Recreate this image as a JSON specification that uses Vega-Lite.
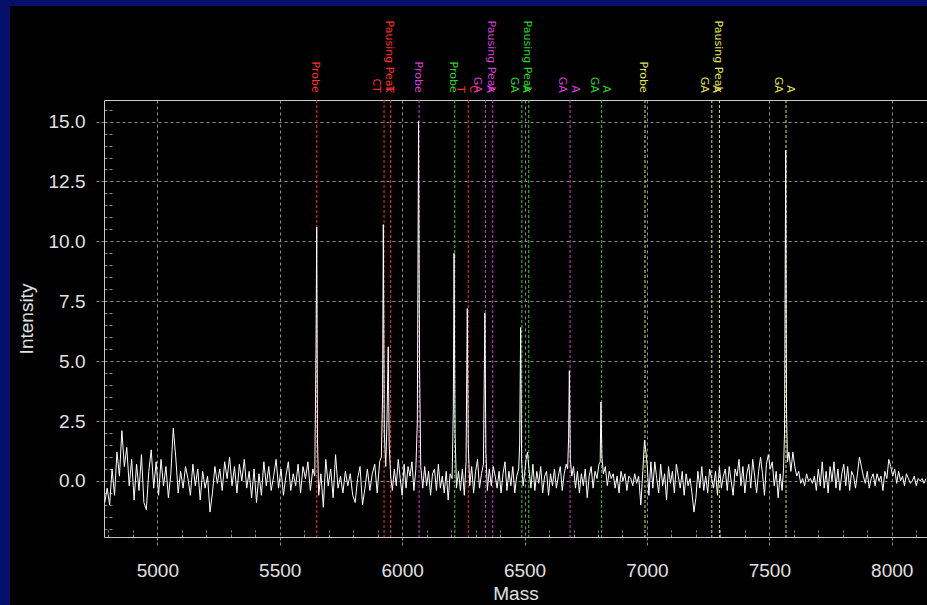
{
  "$schema": "https://vega.github.io/schema/vega-lite/v6.json",
  "width": 823,
  "height": 437,
  "autosize": {"type": "none"},
  "padding": {"left": 104, "top": 100, "right": 0, "bottom": 68},
  "background": "#04106a",
  "config": {
    "view": {"fill": "#000000", "stroke": "#000000", "strokeWidth": 188},
    "font": "Liberation Sans"
  },
  "datasets": {
    "spectrum": [
      {"m":4785,"i":-0.9},{"m":4795,"i":-0.3},{"m":4805,"i":-1.0},{"m":4815,"i":0.5},{"m":4825,"i":-0.6},{"m":4835,"i":1.2},{"m":4845,"i":0.2},{"m":4855,"i":2.1},{"m":4865,"i":0.6},{"m":4875,"i":1.4},{"m":4885,"i":-0.2},{"m":4895,"i":0.9},{"m":4905,"i":-0.8},{"m":4915,"i":0.7},{"m":4925,"i":-0.4},{"m":4935,"i":1.1},{"m":4945,"i":-0.9},{"m":4955,"i":-1.2},{"m":4965,"i":0.4},{"m":4975,"i":1.3},{"m":4985,"i":-0.3},{"m":4995,"i":0.8},{"m":5005,"i":-0.6},{"m":5015,"i":0.9},{"m":5025,"i":-0.2},{"m":5035,"i":0.6},{"m":5045,"i":-0.7},{"m":5055,"i":0.3},{"m":5065,"i":2.2},{"m":5075,"i":1.0},{"m":5085,"i":-0.5},{"m":5095,"i":0.4},
      {"m":5105,"i":-0.3},{"m":5115,"i":0.6},{"m":5125,"i":0.1},{"m":5135,"i":-0.6},{"m":5145,"i":0.7},{"m":5155,"i":-0.2},{"m":5165,"i":0.5},{"m":5175,"i":-0.8},{"m":5185,"i":0.4},{"m":5195,"i":-0.3},{"m":5205,"i":0.2},{"m":5215,"i":-1.3},{"m":5225,"i":-0.5},{"m":5235,"i":0.6},{"m":5245,"i":-0.1},{"m":5255,"i":0.5},{"m":5265,"i":-0.4},{"m":5275,"i":0.8},{"m":5285,"i":0.1},{"m":5295,"i":1.0},{"m":5305,"i":-0.2},{"m":5315,"i":0.6},{"m":5325,"i":-0.5},{"m":5335,"i":0.7},{"m":5345,"i":0.0},{"m":5355,"i":0.9},{"m":5365,"i":-0.3},{"m":5375,"i":0.4},{"m":5385,"i":-0.7},{"m":5395,"i":0.5},{"m":5405,"i":-0.9},{"m":5415,"i":0.3},{"m":5425,"i":-0.6},{"m":5435,"i":0.8},{"m":5445,"i":-0.2},{"m":5455,"i":0.6},{"m":5465,"i":-0.4},{"m":5475,"i":0.2},{"m":5485,"i":0.9},{"m":5495,"i":-0.3},{"m":5505,"i":0.5},{"m":5515,"i":-0.6},{"m":5525,"i":0.2},{"m":5535,"i":0.8},{"m":5545,"i":-0.4},{"m":5555,"i":0.3},{"m":5565,"i":-0.2},{"m":5575,"i":0.7},{"m":5585,"i":-0.5},{"m":5595,"i":0.6},{"m":5605,"i":0.1},{"m":5615,"i":0.8},{"m":5625,"i":-0.4},{"m":5635,"i":0.5},{"m":5643,"i":0.2},{"m":5648,"i":5.5},{"m":5651,"i":10.6},{"m":5654,"i":1.8},{"m":5659,"i":-0.6},
      {"m":5668,"i":0.3},{"m":5678,"i":-1.1},{"m":5688,"i":0.9},{"m":5698,"i":-0.2},{"m":5708,"i":0.5},{"m":5718,"i":-0.7},{"m":5728,"i":1.1},{"m":5738,"i":-0.3},{"m":5748,"i":0.2},{"m":5758,"i":-0.5},{"m":5768,"i":0.4},{"m":5778,"i":-0.2},{"m":5788,"i":0.3},{"m":5798,"i":-0.6},{"m":5808,"i":-0.9},{"m":5818,"i":0.1},{"m":5828,"i":0.6},{"m":5838,"i":-1.0},{"m":5848,"i":-0.3},{"m":5858,"i":0.5},{"m":5868,"i":-0.4},{"m":5878,"i":0.3},{"m":5888,"i":0.7},{"m":5898,"i":-0.5},{"m":5908,"i":0.8},{"m":5915,"i":1.0},{"m":5920,"i":3.5},{"m":5923,"i":10.7},{"m":5927,"i":2.0},{"m":5933,"i":0.6},{"m":5938,"i":2.5},{"m":5943,"i":5.6},{"m":5947,"i":1.5},{"m":5953,"i":0.2},
      {"m":5960,"i":-0.4},{"m":5968,"i":0.5},{"m":5976,"i":-0.2},{"m":5984,"i":0.9},{"m":5992,"i":0.1},{"m":6000,"i":-0.6},{"m":6008,"i":0.7},{"m":6016,"i":-0.3},{"m":6024,"i":0.6},{"m":6032,"i":0.2},{"m":6040,"i":0.8},{"m":6048,"i":-0.4},{"m":6056,"i":0.5},{"m":6062,"i":2.5},{"m":6067,"i":15.0},{"m":6071,"i":4.8},{"m":6076,"i":0.6},{"m":6084,"i":-0.3},
      {"m":6092,"i":0.6},{"m":6100,"i":-0.2},{"m":6108,"i":0.4},{"m":6116,"i":-0.6},{"m":6124,"i":0.3},{"m":6132,"i":0.5},{"m":6140,"i":-0.4},{"m":6148,"i":0.7},{"m":6156,"i":-0.3},{"m":6164,"i":0.2},{"m":6172,"i":-0.5},{"m":6180,"i":0.4},{"m":6188,"i":-0.8},{"m":6196,"i":0.3},{"m":6204,"i":0.1},{"m":6209,"i":3.0},{"m":6212,"i":9.5},{"m":6216,"i":2.0},{"m":6222,"i":-0.3},{"m":6230,"i":0.4},{"m":6238,"i":-0.4},{"m":6246,"i":0.5},{"m":6254,"i":-0.6},{"m":6261,"i":0.8},{"m":6266,"i":7.2},{"m":6270,"i":1.5},{"m":6276,"i":-0.2},{"m":6284,"i":0.6},{"m":6292,"i":-0.5},{"m":6300,"i":0.4},{"m":6308,"i":0.9},{"m":6316,"i":-0.3},{"m":6324,"i":0.3},{"m":6332,"i":0.7},{"m":6338,"i":7.0},{"m":6342,"i":1.2},{"m":6348,"i":-0.4},{"m":6356,"i":0.5},{"m":6364,"i":-0.2},{"m":6372,"i":0.6},{"m":6380,"i":0.2},{"m":6388,"i":-0.3},{"m":6396,"i":0.4},{"m":6404,"i":-0.5},{"m":6412,"i":0.3},{"m":6420,"i":0.8},{"m":6428,"i":-0.4},{"m":6436,"i":0.4},{"m":6444,"i":-0.2},{"m":6452,"i":0.6},{"m":6460,"i":-0.5},{"m":6468,"i":0.2},{"m":6476,"i":0.5},{"m":6480,"i":1.5},{"m":6484,"i":6.4},{"m":6488,"i":0.8},{"m":6494,"i":-0.2},{"m":6500,"i":0.3},{"m":6506,"i":0.9},{"m":6512,"i":1.2},{"m":6518,"i":0.5},{"m":6526,"i":-0.3},{"m":6534,"i":0.7},{"m":6542,"i":-0.4},{"m":6550,"i":0.4},{"m":6558,"i":-0.1},{"m":6566,"i":0.6},{"m":6574,"i":-0.5},{"m":6582,"i":0.2},{"m":6590,"i":0.4},{"m":6598,"i":-0.6},{"m":6606,"i":0.3},{"m":6614,"i":-0.2},{"m":6622,"i":0.5},{"m":6630,"i":-0.3},{"m":6638,"i":0.2},{"m":6646,"i":0.6},{"m":6654,"i":-0.4},{"m":6662,"i":0.3},{"m":6670,"i":0.7},{"m":6676,"i":0.5},{"m":6680,"i":1.8},{"m":6683,"i":4.6},{"m":6687,"i":0.9},{"m":6693,"i":0.2},{"m":6700,"i":0.6},{"m":6708,"i":-0.3},{"m":6716,"i":0.4},{"m":6724,"i":-0.5},{"m":6732,"i":0.3},{"m":6740,"i":-0.2},{"m":6748,"i":0.5},{"m":6756,"i":-0.7},{"m":6764,"i":0.2},{"m":6772,"i":0.6},{"m":6780,"i":-0.3},{"m":6788,"i":0.4},{"m":6796,"i":0.1},{"m":6804,"i":0.7},{"m":6809,"i":0.8},{"m":6812,"i":3.3},{"m":6816,"i":1.0},{"m":6822,"i":0.3},{"m":6830,"i":0.6},
      {"m":6838,"i":-0.2},{"m":6846,"i":0.4},{"m":6854,"i":0.1},{"m":6862,"i":0.3},{"m":6870,"i":-0.3},{"m":6878,"i":0.2},{"m":6886,"i":-0.5},{"m":6894,"i":0.4},{"m":6902,"i":0.0},{"m":6910,"i":0.3},{"m":6918,"i":-0.4},{"m":6926,"i":0.2},{"m":6934,"i":0.1},{"m":6942,"i":-0.2},{"m":6950,"i":0.3},{"m":6958,"i":-0.1},{"m":6966,"i":0.2},{"m":6975,"i":-1.0},{"m":6983,"i":0.4},{"m":6990,"i":1.7},{"m":6996,"i":1.2},{"m":7002,"i":0.5},{"m":7008,"i":-0.6},{"m":7016,"i":0.8},{"m":7024,"i":-0.3},{"m":7032,"i":0.8},{"m":7040,"i":0.1},{"m":7048,"i":-0.5},{"m":7056,"i":0.7},{"m":7064,"i":-0.2},{"m":7072,"i":0.3},{"m":7080,"i":-0.8},{"m":7088,"i":0.6},{"m":7096,"i":-0.1},{"m":7104,"i":0.4},{"m":7112,"i":-0.5},{"m":7120,"i":0.7},{"m":7128,"i":0.2},{"m":7136,"i":-0.3},{"m":7144,"i":0.4},{"m":7152,"i":-0.6},{"m":7160,"i":0.3},{"m":7168,"i":-0.2},{"m":7176,"i":0.1},{"m":7184,"i":-0.5},{"m":7192,"i":-1.3},{"m":7200,"i":-0.7},{"m":7208,"i":0.4},{"m":7216,"i":-0.3},{"m":7224,"i":0.6},{"m":7232,"i":-0.4},{"m":7240,"i":0.2},{"m":7248,"i":-0.5},{"m":7256,"i":0.5},{"m":7264,"i":0.1},{"m":7272,"i":-0.3},{"m":7280,"i":0.4},{"m":7288,"i":-0.6},{"m":7296,"i":0.6},{"m":7304,"i":-0.3},{"m":7312,"i":0.2},{"m":7320,"i":0.5},{"m":7328,"i":-0.4},{"m":7336,"i":0.6},{"m":7344,"i":0.0},{"m":7352,"i":-0.6},{"m":7360,"i":0.5},{"m":7368,"i":0.2},{"m":7376,"i":0.9},{"m":7384,"i":-0.2},{"m":7392,"i":0.6},{"m":7400,"i":-0.5},{"m":7408,"i":0.3},{"m":7416,"i":0.7},{"m":7424,"i":-0.3},{"m":7432,"i":0.9},{"m":7440,"i":0.2},{"m":7448,"i":-0.5},{"m":7456,"i":0.4},{"m":7464,"i":1.0},{"m":7472,"i":0.3},{"m":7480,"i":-0.6},{"m":7488,"i":0.7},{"m":7496,"i":1.1},{"m":7504,"i":0.5},{"m":7512,"i":0.8},{"m":7520,"i":-0.2},{"m":7528,"i":0.4},{"m":7536,"i":-0.7},{"m":7544,"i":0.3},{"m":7552,"i":-0.4},{"m":7558,"i":0.5},{"m":7562,"i":2.0},{"m":7565,"i":9.5},{"m":7567,"i":13.8},{"m":7570,"i":3.0},{"m":7574,"i":0.8},
      {"m":7580,"i":1.2},{"m":7588,"i":0.4},{"m":7596,"i":1.2},{"m":7604,"i":0.6},{"m":7612,"i":0.2},{"m":7620,"i":0.4},{"m":7628,"i":-0.1},{"m":7636,"i":0.1},{"m":7644,"i":-0.2},{"m":7652,"i":0.3},{"m":7660,"i":0.0},{"m":7668,"i":0.1},{"m":7676,"i":-0.1},{"m":7684,"i":0.2},{"m":7692,"i":-0.4},{"m":7700,"i":0.5},{"m":7708,"i":-0.2},{"m":7716,"i":0.8},{"m":7724,"i":-0.3},{"m":7732,"i":0.4},{"m":7740,"i":-0.5},{"m":7748,"i":0.6},{"m":7756,"i":0.0},{"m":7764,"i":0.8},{"m":7772,"i":-0.3},{"m":7780,"i":0.5},{"m":7788,"i":-0.4},{"m":7796,"i":0.3},{"m":7804,"i":0.7},{"m":7812,"i":-0.2},{"m":7820,"i":0.6},{"m":7828,"i":-0.4},{"m":7836,"i":0.4},{"m":7844,"i":0.2},{"m":7852,"i":-0.3},{"m":7860,"i":0.3},{"m":7868,"i":1.0},{"m":7876,"i":0.6},{"m":7884,"i":0.2},{"m":7892,"i":-0.1},{"m":7900,"i":0.4},{"m":7908,"i":-0.3},{"m":7916,"i":0.1},{"m":7924,"i":0.3},{"m":7932,"i":-0.2},{"m":7940,"i":0.3},{"m":7948,"i":0.0},{"m":7956,"i":0.2},{"m":7964,"i":-0.4},{"m":7972,"i":0.4},{"m":7980,"i":0.1},{"m":7988,"i":0.9},{"m":7996,"i":0.6},{"m":8004,"i":0.2},{"m":8012,"i":0.5},{"m":8020,"i":-0.1},{"m":8028,"i":0.4},{"m":8036,"i":0.0},{"m":8044,"i":0.2},{"m":8052,"i":-0.2},{"m":8060,"i":0.3},{"m":8068,"i":0.1},{"m":8076,"i":-0.1},{"m":8084,"i":0.0},{"m":8092,"i":0.2},{"m":8100,"i":-0.2},{"m":8108,"i":0.1},{"m":8116,"i":0.0},{"m":8124,"i":0.1},{"m":8132,"i":-0.1},{"m":8140,"i":0.1}
    ],
    "markers": [
      {"mass":5651,"grp":"red","center":"Probe","left":"","right":""},
      {"mass":5926,"grp":"red","center":"","left":"CT","right":"T"},
      {"mass":5953,"grp":"red","center":"Pausing Peak","left":"","right":""},
      {"mass":6270,"grp":"red","center":"","left":"T","right":"C"},
      {"mass":6069,"grp":"magenta","center":"Probe","left":"","right":""},
      {"mass":6340,"grp":"magenta","center":"","left":"GA","right":"A"},
      {"mass":6370,"grp":"magenta","center":"Pausing Peak","left":"","right":""},
      {"mass":6686,"grp":"magenta","center":"","left":"GA","right":"A"},
      {"mass":6215,"grp":"green","center":"Probe","left":"","right":""},
      {"mass":6489,"grp":"green","center":"","left":"GA","right":"A"},
      {"mass":6517,"grp":"green","center":"Pausing Peak","left":"","right":""},
      {"mass":6815,"grp":"green","center":"","left":"GA","right":"A"},
      {"mass":6992,"grp":"yellow","center":"Probe","left":"","right":""},
      {"mass":7265,"grp":"yellow","center":"","left":"GA","right":"A"},
      {"mass":7296,"grp":"yellow","center":"Pausing Peak","left":"","right":""},
      {"mass":7568,"grp":"yellow","center":"","left":"GA","right":"A"}
    ]
  },
  "layer": [
    {
      "data": {"name": "markers"},
      "mark": {"type": "rule", "strokeDash": [3, 2], "strokeWidth": 1},
      "encoding": {
        "x": {"field": "mass", "type": "quantitative", "scale": {"domain": [4782, 8144], "nice": false, "zero": false}, "axis": null},
        "color": {"field": "grp", "type": "nominal", "scale": {"domain": ["red", "magenta", "green", "yellow"], "range": ["#ff2e2e", "#d83cd8", "#2ed12e", "#e2e25a"]}, "legend": null}
      }
    },
    {
      "data": {"name": "spectrum"},
      "mark": {"type": "line", "color": "#ffffff", "strokeWidth": 1, "clip": true},
      "encoding": {
        "x": {
          "field": "m", "type": "quantitative", "title": "Mass",
          "axis": {
            "values": [4800,4900,5000,5100,5200,5300,5400,5500,5600,5700,5800,5900,6000,6100,6200,6300,6400,6500,6600,6700,6800,6900,7000,7100,7200,7300,7400,7500,7600,7700,7800,7900,8000,8100],
            "labelExpr": "datum.value % 500 === 0 ? format(datum.value, 'd') : ''",
            "labelFontSize": 19, "labelColor": "#e0e0e0", "labelFont": "Liberation Sans", "labelPadding": 14, "labelFlush": false, "labelOverlap": false,
            "tickSize": {"condition": {"test": "datum.value % 500 === 0", "value": 10}, "value": -7},
            "tickDash": [3, 2], "tickColor": "#8c8c8c",
            "grid": true, "gridColor": "#8c8c8c", "gridDash": [3, 3],
            "gridOpacity": {"condition": {"test": "datum.value % 500 === 0", "value": 1}, "value": 0},
            "domainColor": "#c8c8c8",
            "titleFontSize": 19, "titleColor": "#e0e0e0", "titleFontWeight": "normal", "titleFont": "Liberation Sans", "titlePadding": 4
          }
        },
        "y": {
          "field": "i", "type": "quantitative", "title": "Intensity",
          "scale": {"domain": [-2.34, 15.9], "nice": false, "zero": false},
          "axis": {
            "orient": "left",
            "values": [-2,-1.5,-1,-0.5,0,0.5,1,1.5,2,2.5,3,3.5,4,4.5,5,5.5,6,6.5,7,7.5,8,8.5,9,9.5,10,10.5,11,11.5,12,12.5,13,13.5,14,14.5,15,15.5],
            "labelExpr": "datum.value % 2.5 === 0 && datum.value >= 0 ? format(datum.value, '.1f') : ''",
            "labelFontSize": 19, "labelColor": "#e0e0e0", "labelFont": "Liberation Sans", "labelPadding": 11, "labelFlush": false, "labelOverlap": false,
            "tickSize": {"condition": {"test": "datum.value % 2.5 === 0", "value": 8}, "value": -8},
            "tickDash": [3, 2], "tickColor": "#8c8c8c",
            "grid": true, "gridColor": "#8c8c8c", "gridDash": [3, 3],
            "gridOpacity": {"condition": {"test": "datum.value % 2.5 === 0", "value": 1}, "value": 0},
            "domainColor": "#c8c8c8",
            "titleFontSize": 19, "titleColor": "#e0e0e0", "titleFontWeight": "normal", "titleFont": "Liberation Sans", "titlePadding": 12
          }
        }
      }
    },
    {
      "data": {"name": "markers"},
      "mark": {"type": "text", "angle": 90, "align": "right", "baseline": "middle", "font": "DejaVu Sans", "fontSize": 11, "dy": 1.5},
      "encoding": {
        "x": {"field": "mass", "type": "quantitative", "axis": {"orient": "top", "labels": false, "ticks": false, "grid": false, "title": null, "domainColor": "#c8c8c8"}},
        "y": {"datum": 16.2, "type": "quantitative", "axis": null},
        "text": {"field": "center"},
        "color": {"field": "grp", "type": "nominal", "legend": null}
      }
    },
    {
      "data": {"name": "markers"},
      "mark": {"type": "text", "angle": 90, "align": "right", "baseline": "middle", "font": "DejaVu Sans", "fontSize": 11, "dy": 8},
      "encoding": {
        "x": {"field": "mass", "type": "quantitative", "axis": null},
        "y": {"datum": 16.2, "type": "quantitative", "axis": null},
        "text": {"field": "left"},
        "color": {"field": "grp", "type": "nominal", "legend": null}
      }
    },
    {
      "data": {"name": "markers"},
      "mark": {"type": "text", "angle": 90, "align": "right", "baseline": "middle", "font": "DejaVu Sans", "fontSize": 11, "dy": -4.5},
      "encoding": {
        "x": {"field": "mass", "type": "quantitative", "axis": null},
        "y": {"datum": 16.2, "type": "quantitative", "axis": null},
        "text": {"field": "right"},
        "color": {"field": "grp", "type": "nominal", "legend": null}
      }
    }
  ],
  "resolve": {"axis": {"x": "independent", "y": "independent"}}
}
